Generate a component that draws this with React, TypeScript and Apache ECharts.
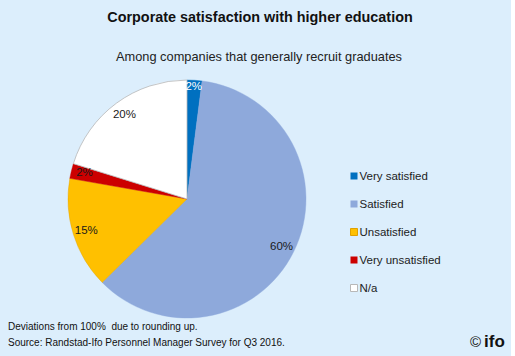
import React, { useEffect, useRef } from "react";
import * as echarts from "echarts";

const categories = ["Very satisfied", "Satisfied", "Unsatisfied", "Very unsatisfied", "N/a"];
const values = [2, 60, 15, 2, 20];
const colors = ["#0070C0", "#8EA9DB", "#FFC000", "#CC0000", "#FFFFFF"];
const borderColors = ["#0070C0", "#8EA9DB", "#E0A000", "#CC0000", "#B8B8B8"];
const labelColors = ["#FFFFFF", "#1a1a1a", "#1a1a1a", "#1a1a1a", "#1a1a1a"];
const titleText = "Corporate satisfaction with higher education";
const subtitleText = "Among companies that generally recruit graduates";
const footnotes = [
  "Deviations from 100%  due to rounding up.",
  "Source: Randstad-Ifo Personnel Manager Survey for Q3 2016.",
];

const FONT = "'Liberation Sans', Arial, sans-serif";

export default function App() {
  const ref = useRef<HTMLDivElement>(null);
  useEffect(() => {
    document.body.style.margin = "0";
    if (!ref.current) return;
    const chart = echarts.init(ref.current, undefined, { renderer: "svg" });
    const R = 119;
    const center = [187, 199];
    chart.setOption({
      animation: false,
      backgroundColor: "#DCEEFC",
      textStyle: { fontFamily: FONT },
      title: [
        {
          text: titleText,
          left: 255,
          textAlign: "center",
          top: 5,
          textStyle: { fontSize: 14.4, fontWeight: "bold", color: "#111", fontFamily: FONT },
        },
        {
          text: subtitleText,
          left: 254,
          textAlign: "center",
          top: 45,
          textStyle: { fontSize: 12.8, fontWeight: "normal", color: "#222", fontFamily: FONT },
        },
      ],
      legend: {
        orient: "vertical",
        left: 345,
        top: 164,
        itemWidth: 7,
        itemHeight: 7,
        itemGap: 14,
        icon: "rect",
        selectedMode: false,
        data: categories.map((c, i) => ({
          name: c,
          itemStyle: { color: colors[i], borderColor: borderColors[i], borderWidth: i >= 2 && i !== 3 ? 1 : 0 },
        })),
        textStyle: { fontSize: 11.5, color: "#222", lineHeight: 14, fontFamily: FONT, padding: [0, 0, 0, -3] },
      },
      series: [
        {
          type: "pie",
          center,
          radius: [0, R],
          startAngle: 90,
          clockwise: true,
          silent: true,
          label: { show: false },
          labelLine: { show: false },
          data: categories.map((c, i) => ({
            name: c,
            value: values[i],
            itemStyle: {
              color: colors[i],
              borderColor: borderColors[i],
              borderWidth: i === 4 ? 0.8 : 0.4,
            },
          })),
        },
        {
          type: "pie",
          center,
          radius: [86, R],
          startAngle: 90,
          clockwise: true,
          silent: true,
          itemStyle: { color: "transparent" },
          labelLine: { show: false },
          label: {
            show: true,
            position: "inside",
            formatter: "{c}%",
            fontSize: 11.5,
            fontFamily: FONT,
          },
          data: categories.map((c, i) => ({
            name: c,
            value: values[i],
            itemStyle: { color: "transparent", borderWidth: 0 },
            label: { color: labelColors[i], offset: i === 0 ? [0, -8] : i === 3 ? [0, -2] : [0, 0] },
          })),
        },
      ],
      graphic: [
        {
          type: "text",
          left: 8,
          top: 321,
          style: { text: footnotes[0], fontSize: 10, fill: "#111", fontFamily: FONT },
        },
        {
          type: "text",
          left: 8,
          top: 337,
          style: { text: footnotes[1], fontSize: 10, fill: "#111", fontFamily: FONT },
        },
        {
          type: "text",
          left: 470,
          top: 334,
          style: { text: "©", fontSize: 15, fill: "#111", fontFamily: FONT },
        },
        {
          type: "text",
          left: 484,
          top: 333,
          style: { text: "ifo", fontSize: 17, fontWeight: "bold", fill: "#111", fontFamily: FONT },
        },
      ],
    });
    return () => chart.dispose();
  }, []);
  return (
    <div style={{ width: 515, height: 356, background: "#fff" }}>
      <div ref={ref} style={{ width: 511, height: 356 }} />
    </div>
  );
}
